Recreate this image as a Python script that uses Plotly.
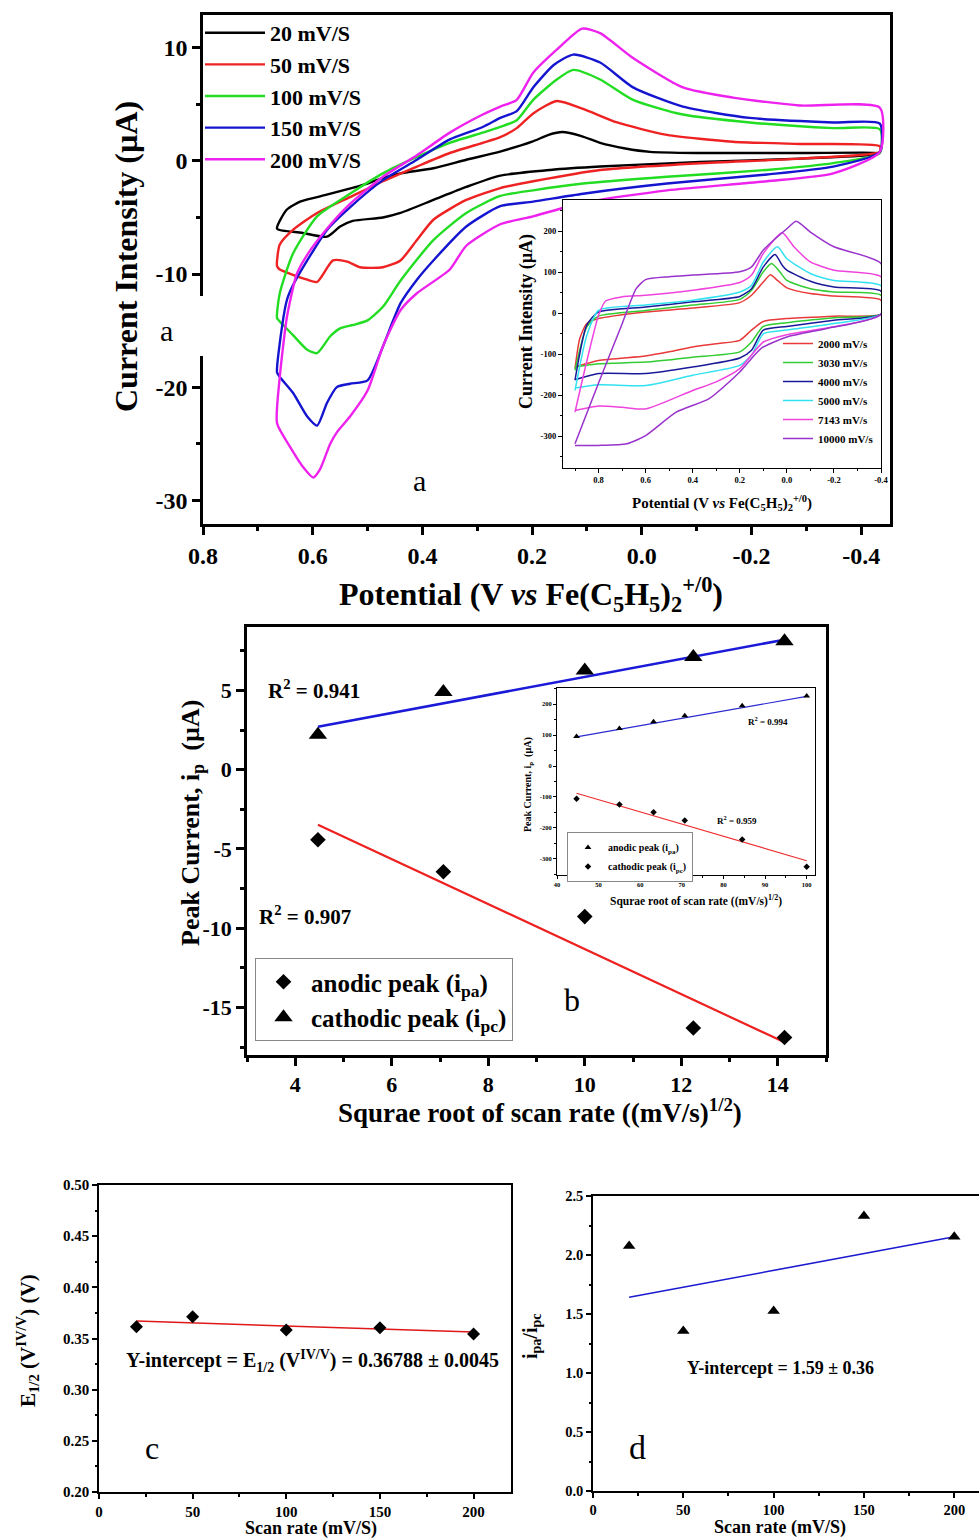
import plotly.graph_objects as go

# ---------------- DATA ----------------
# Panel a: cyclic voltammograms (potential V vs Fc+/0, current uA)
scan_labels = ["20 mV/S", "50 mV/S", "100 mV/S", "150 mV/S", "200 mV/S"]
v20 = [0.665, 0.647, 0.623, 0.592, 0.50, 0.472, 0.44, 0.38, 0.32, 0.26, 0.20, 0.17, 0.145, 0.11, 0.076, 0.03, -0.015,
       -0.10, -0.166, -0.30, -0.434, -0.41, -0.288, -0.106, 0.076, 0.167, 0.258, 0.32, 0.38, 0.44, 0.472, 0.527, 0.55,
       0.574, 0.62, 0.665]
i20 = [-6.0, -4.3, -3.6, -3.2, -2.0, -1.5, -1.1, -0.65, 0.1, 0.8, 1.7, 2.3, 2.55, 2.2, 1.6, 1.1, 0.8,
       0.7, 0.7, 0.7, 0.7, 0.5, 0.2, -0.1, -0.5, -0.8, -1.3, -2.3, -3.45, -4.6, -5.0, -5.3, -5.8,
       -6.7, -6.35, -6.0]
v50 = [0.665, 0.66, 0.636, 0.592, 0.532, 0.472, 0.41, 0.35, 0.29, 0.258, 0.228, 0.198, 0.155, 0.107, 0.045, -0.046,
       -0.166, -0.288, -0.434, -0.434, -0.288, -0.106, 0.076, 0.198, 0.258, 0.32, 0.38, 0.41, 0.44, 0.472, 0.514,
       0.537, 0.563, 0.592, 0.61, 0.66, 0.665]
i50 = [-9.3, -7.4, -6.1, -4.6, -3.2, -1.8, -0.5, 0.7, 1.6, 2.1, 2.9, 4.2, 5.3, 4.6, 3.4, 2.3,
       1.7, 1.5, 1.3, 0.8, 0.2, -0.2, -0.8, -1.8, -2.4, -3.45, -5.2, -7.0, -8.8, -9.4, -9.4,
       -8.9, -8.8, -10.7, -10.5, -9.6, -9.3]
v100 = [0.665, 0.66, 0.636, 0.592, 0.532, 0.472, 0.41, 0.35, 0.29, 0.258, 0.228, 0.198, 0.155, 0.125, 0.076, 0.016,
        -0.075, -0.197, -0.349, -0.434, -0.434, -0.349, -0.228, -0.046, 0.107, 0.198, 0.258, 0.32, 0.38, 0.44,
        0.472, 0.50, 0.526, 0.55, 0.568, 0.592, 0.61, 0.636, 0.66, 0.665]
i100 = [-13.9, -11.7, -8.2, -4.9, -2.9, -1.1, 0.35, 1.6, 2.5, 3.0, 3.6, 5.4, 7.2, 8.05, 7.2, 5.4,
        4.1, 3.4, 2.9, 2.8, 0.7, -0.2, -0.8, -1.4, -2.0, -2.6, -3.1, -4.6, -7.0, -10.6,
        -12.9, -14.1, -14.5, -14.8, -15.5, -17.0, -16.7, -15.4, -14.2, -13.9]
v150 = [0.665, 0.66, 0.647, 0.636, 0.61, 0.574, 0.532, 0.472, 0.41, 0.35, 0.29, 0.258, 0.228, 0.198, 0.16, 0.125,
        0.076, 0.016, -0.075, -0.197, -0.349, -0.434, -0.434, -0.349, -0.228, -0.046, 0.107, 0.198, 0.258, 0.32,
        0.38, 0.41, 0.44, 0.472, 0.50, 0.532, 0.556, 0.574, 0.592, 0.61, 0.636, 0.66, 0.665]
i150 = [-18.7, -16.1, -12.3, -11.0, -8.8, -6.1, -4.1, -1.7, 0.1, 1.9, 3.0, 3.8, 4.4, 6.5, 8.5, 9.4,
        8.7, 6.5, 4.8, 3.8, 3.4, 3.3, 0.8, -0.5, -1.2, -2.0, -2.9, -3.6, -4.0, -5.8,
        -8.8, -10.5, -12.6, -16.4, -19.4, -19.7, -20.0, -21.4, -23.4, -22.6, -20.5, -19.1, -18.7]
v200 = [0.665, 0.66, 0.647, 0.629, 0.61, 0.574, 0.532, 0.472, 0.41, 0.35, 0.29, 0.258, 0.228, 0.198, 0.149, 0.109,
        0.076, 0.016, -0.075, -0.166, -0.288, -0.434, -0.434, -0.349, -0.228, -0.046, 0.107, 0.198, 0.258, 0.32,
        0.35, 0.41, 0.44, 0.472, 0.50, 0.532, 0.556, 0.568, 0.587, 0.599, 0.617, 0.641, 0.665]
i200 = [-23.2, -19.1, -13.8, -10.0, -8.3, -6.0, -3.8, -1.4, 0.5, 2.5, 4.1, 4.8, 5.4, 7.8, 10.1, 11.7,
        11.3, 9.1, 6.5, 5.6, 4.9, 4.7, 0.8, -1.1, -1.8, -2.6, -3.7, -4.9, -5.6, -7.5,
        -9.6, -11.7, -13.2, -16.4, -20.3, -22.6, -24.0, -25.0, -27.3, -28.0, -27.1, -25.3, -23.2]

# Panel a inset: fast scans
fast_labels = ["2000 mV/s", "3030 mV/s", "4000 mV/s", "5000 mV/s", "7143 mV/s", "10000 mV/s"]
fv2000 = [0.9, 0.88, 0.85, 0.8, 0.6, 0.4, 0.2, 0.15, 0.1, 0.07, 0.04, 0.0, -0.1, -0.2, -0.4,
          -0.4, -0.2, 0.0, 0.1, 0.15, 0.2, 0.3, 0.4, 0.5, 0.6, 0.8, 0.9]
fi2000 = [-135, -62, -25, -13, 3, 13, 26, 44, 76, 94, 80, 62, 48, 42, 32,
          -2, -7, -13, -20, -41, -66, -74, -82, -94, -104, -115, -131]
fv3030 = [0.9, 0.85, 0.8, 0.6, 0.4, 0.2, 0.15, 0.1, 0.065, 0.03, 0.0, -0.1, -0.2, -0.4,
          -0.4, -0.2, 0.0, 0.1, 0.15, 0.2, 0.4, 0.6, 0.8, 0.9]
fi3030 = [-139, -33, -7, 7, 20, 34, 56, 101, 121, 101, 80, 60, 52, 44,
          -2, -11, -23, -32, -70, -94, -107, -119, -123, -131]
fv4000 = [0.9, 0.85, 0.8, 0.6, 0.4, 0.2, 0.15, 0.1, 0.05, 0.02, 0.0, -0.1, -0.2, -0.4,
          -0.4, -0.2, 0.0, 0.1, 0.15, 0.2, 0.4, 0.6, 0.8, 0.9]
fi4000 = [-163, -29, 3, 15, 28, 41, 60, 113, 143, 117, 105, 78, 64, 54,
          -2, -17, -32, -41, -90, -109, -131, -147, -147, -162]
fv5000 = [0.9, 0.85, 0.8, 0.6, 0.4, 0.2, 0.15, 0.1, 0.04, 0.0, -0.1, -0.2, -0.4,
          -0.4, -0.2, 0.0, 0.1, 0.15, 0.2, 0.4, 0.6, 0.8, 0.9]
fi5000 = [-188, -54, 7, 20, 32, 52, 68, 125, 162, 133, 97, 80, 67,
          -2, -25, -41, -50, -102, -127, -151, -176, -174, -182]
fv7143 = [0.9, 0.85, 0.8, 0.77, 0.7, 0.6, 0.4, 0.2, 0.15, 0.1, 0.02, -0.03, -0.1, -0.2, -0.4,
          -0.4, -0.2, 0.0, 0.1, 0.2, 0.3, 0.4, 0.6, 0.7, 0.8, 0.9]
fi7143 = [-241, -117, -5, 30, 40, 44, 56, 75, 93, 146, 196, 162, 125, 105, 89,
          -2, -33, -52, -70, -135, -167, -188, -233, -229, -226, -237]
fv10000 = [0.9, 0.8, 0.7, 0.64, 0.6, 0.5, 0.4, 0.2, 0.15, 0.1, 0.0, -0.04, -0.1, -0.2, -0.4,
           -0.4, -0.17, 0.0, 0.11, 0.2, 0.33, 0.47, 0.6, 0.68, 0.8, 0.9]
fi10000 = [-318, -170, -26, 60, 82, 89, 93, 101, 113, 154, 206, 224, 198, 162, 121,
           -2, -37, -58, -86, -143, -208, -241, -298, -318, -322, -322]

# Panel b: peak current vs sqrt(scan rate)
sqrt_rate = [4.47, 7.07, 10.0, 12.25, 14.14]
ipc_tri = [2.2, 4.9, 6.25, 7.1, 8.1]
ipa_dia = [-4.42, -6.44, -9.27, -16.3, -16.9]
fit_x = [4.47, 14.14]
fit_tri = [2.71, 8.2]
fit_dia = [-3.47, -17.2]

# Panel b inset
sqrt_fast = [44.7, 55.0, 63.2, 70.7, 84.5, 100.0]
in_tri = [95, 121, 143, 162, 195, 226]
in_dia = [-106, -124, -149, -176, -237, -325]
in_fit_x = [44.7, 100.0]
in_fit_tri = [94, 225]
in_fit_dia = [-88, -306]

# Panel c: E1/2 vs scan rate
scan_rate = [20, 50, 100, 150, 200]
e_half = [0.3615, 0.3713, 0.3583, 0.3605, 0.3544]
c_fit_x = [20, 200]
c_fit_y = [0.367, 0.3563]

# Panel d: ipa/ipc vs scan rate
ratio = [2.076, 1.356, 1.525, 2.33, 2.155]
d_fit_x = [20, 200]
d_fit_y = [1.641, 2.155]

# tick labels
a_xt = [0.8, 0.6, 0.4, 0.2, 0.0, -0.2, -0.4]
a_xl = ["0.8", "0.6", "0.4", "0.2", "0.0", "-0.2", "-0.4"]
a_yt = [10, 0, -10, -20, -30]
a_yl = ["10", "0", "-10", "-20", "-30"]
ai_yt = [200, 100, 0, -100, -200, -300]
ai_yl = ["200", "100", "0", "-100", "-200", "-300"]
b_xt = [4, 6, 8, 10, 12, 14]
b_xl = ["4", "6", "8", "10", "12", "14"]
b_yt = [5, 0, -5, -10, -15]
b_yl = ["5", "0", "-5", "-10", "-15"]
bi_xt = [40, 50, 60, 70, 80, 90, 100]
bi_xl = ["40", "50", "60", "70", "80", "90", "100"]
c_xt = [0, 50, 100, 150, 200]
c_xl = ["0", "50", "100", "150", "200"]
c_yt = [0.20, 0.25, 0.30, 0.35, 0.40, 0.45, 0.50]
c_yl = ["0.20", "0.25", "0.30", "0.35", "0.40", "0.45", "0.50"]
d_yt = [0.0, 0.5, 1.0, 1.5, 2.0, 2.5]
d_yl = ["0.0", "0.5", "1.0", "1.5", "2.0", "2.5"]

# ---------------- STYLE ----------------
W, H = 979, 1538
SERIF = "Liberation Serif"


def px(x):
    return x / W


def py(y):
    return 1 - y / H


main_colors = ["#000000", "#ee2222", "#22dd22", "#1515d0", "#ee22ee"]
fast_colors = ["#e83a3a", "#33cc33", "#1a1a99", "#33e2f0", "#ee44dd", "#9933cc"]

fig = go.Figure()

# Panel a main curves
for name, v, i, c in zip(scan_labels, [v20, v50, v100, v150, v200], [i20, i50, i100, i150, i200], main_colors):
    fig.add_trace(go.Scatter(x=v, y=i, mode="lines", name=name, line=dict(color=c, width=2.4, shape="spline", smoothing=0.6),
                             xaxis="x", yaxis="y", legend="legend", legendgroup=name))

# Panel a inset
for name, v, i, c in zip(fast_labels, [fv2000, fv3030, fv4000, fv5000, fv7143, fv10000],
                         [fi2000, fi3030, fi4000, fi5000, fi7143, fi10000], fast_colors):
    fig.add_trace(go.Scatter(x=v, y=i, mode="lines", name=name, line=dict(color=c, width=1.5, shape="spline", smoothing=0.6),
                             xaxis="x2", yaxis="y2", legend="legend2", legendgroup=name))

# Panel b
fig.add_trace(go.Scatter(x=fit_x, y=fit_tri, mode="lines", line=dict(color="#1a1ad8", width=2.6),
                         xaxis="x3", yaxis="y3", showlegend=False))
fig.add_trace(go.Scatter(x=fit_x, y=fit_dia, mode="lines", line=dict(color="#ee2020", width=2.2),
                         xaxis="x3", yaxis="y3", showlegend=False))
fig.add_trace(go.Scatter(x=sqrt_rate, y=ipa_dia, mode="markers", name="anodic peak (i<sub>pa</sub>)",
                         marker=dict(symbol="diamond", size=12, color="black"),
                         xaxis="x3", yaxis="y3", legend="legend3", legendrank=1))
fig.add_trace(go.Scatter(x=sqrt_rate, y=ipc_tri, mode="markers", name="cathodic peak (i<sub>pc</sub>)",
                         marker=dict(symbol="triangle-up", size=16, color="black"),
                         xaxis="x3", yaxis="y3", legend="legend3", legendrank=2))

# Panel b inset
fig.add_trace(go.Scatter(x=in_fit_x, y=in_fit_tri, mode="lines", line=dict(color="#2a2ad0", width=1.2),
                         xaxis="x4", yaxis="y4", showlegend=False))
fig.add_trace(go.Scatter(x=in_fit_x, y=in_fit_dia, mode="lines", line=dict(color="#ee3030", width=1.2),
                         xaxis="x4", yaxis="y4", showlegend=False))
fig.add_trace(go.Scatter(x=sqrt_fast, y=in_tri, mode="markers", name="anodic peak (i<sub>pa</sub>)",
                         marker=dict(symbol="triangle-up", size=6, color="black"),
                         xaxis="x4", yaxis="y4", legend="legend4", legendrank=1))
fig.add_trace(go.Scatter(x=sqrt_fast, y=in_dia, mode="markers", name="cathodic peak (i<sub>pc</sub>)",
                         marker=dict(symbol="diamond", size=5, color="black"),
                         xaxis="x4", yaxis="y4", legend="legend4", legendrank=2))

# Panel c
fig.add_trace(go.Scatter(x=c_fit_x, y=c_fit_y, mode="lines", line=dict(color="#e01818", width=1.5),
                         xaxis="x5", yaxis="y5", showlegend=False))
fig.add_trace(go.Scatter(x=scan_rate, y=e_half, mode="markers", marker=dict(symbol="diamond", size=10, color="black"),
                         xaxis="x5", yaxis="y5", showlegend=False))

# Panel d
fig.add_trace(go.Scatter(x=d_fit_x, y=d_fit_y, mode="lines", line=dict(color="#1a1ad0", width=1.5),
                         xaxis="x6", yaxis="y6", showlegend=False))
fig.add_trace(go.Scatter(x=scan_rate, y=ratio, mode="markers", marker=dict(symbol="triangle-up", size=11, color="black"),
                         xaxis="x6", yaxis="y6", showlegend=False))


def axis(domain, rng, tv, tt, mdtick, fsize, lw, tlen, anchor, mirror=True, mtick0=0):
    return dict(domain=domain, range=rng, anchor=anchor, automargin=False, tickmode="array", tickvals=tv, ticktext=tt,
                ticks="outside", ticklen=tlen, tickwidth=lw, tickcolor="black",
                minor=dict(ticks="outside", ticklen=max(2, tlen * 0.55), tickwidth=lw, tickcolor="black",
                           tickmode="linear", dtick=mdtick, tick0=mtick0),
                showline=True, linewidth=lw, linecolor="black", mirror=mirror,
                showgrid=False, zeroline=False,
                tickfont=dict(family=SERIF, size=fsize, color="black", weight="bold"))


fig.update_layout(
    template="none",
    width=W, height=H, margin=dict(l=0, r=0, t=0, b=0, autoexpand=False),
    paper_bgcolor="white", plot_bgcolor="white",
    xaxis=axis([px(203), px(890)], [0.8, -0.4525], a_xt, a_xl, 0.1, 24, 2.5, 8, "y"),
    yaxis=axis([py(524), py(15)], [-32.1, 12.9], a_yt, a_yl, 5, 24, 2.5, 8, "x"),
    xaxis2=axis([px(563), px(881)], [0.951, -0.4], a_xt, a_xl, 0.1, 8.5, 1.2, 4, "y2"),
    yaxis2=axis([py(468), py(200)], [-377, 276], ai_yt, ai_yl, 50, 8.5, 1.2, 4, "x2"),
    xaxis3=axis([px(247), px(826)], [3, 15], b_xt, b_xl, 1, 22, 2.5, 8, "y3"),
    yaxis3=axis([py(1055), py(627)], [-18, 9], b_yt, b_yl, 2.5, 22, 2.5, 8, "x3"),
    xaxis4=axis([px(557), px(815)], [40, 102], bi_xt, bi_xl, 5, 6.5, 1, 3, "y4"),
    yaxis4=axis([py(875), py(688)], [-352, 252], ai_yt, ai_yl, 50, 6.5, 1, 3, "x4"),
    xaxis5=axis([px(99), px(511)], [0, 220], c_xt, c_xl, 25, 15, 1.5, 5, "y5"),
    yaxis5=axis([py(1492), py(1185)], [0.2, 0.5], c_yt, c_yl, 0.025, 15, 1.5, 5, "x5"),
    xaxis6=axis([px(593), 1.0], [0, 213.7], c_xt, c_xl, 25, 14.5, 1.5, 5, "y6"),
    yaxis6=axis([py(1491), py(1196)], [0, 2.5], d_yt, d_yl, 0.25, 14.5, 1.5, 5, "x6", mirror=False),
    legend=dict(x=px(200), y=py(12), xanchor="left", yanchor="top", bgcolor="rgba(0,0,0,0)",
                font=dict(family=SERIF, size=22, color="black", weight="bold"), tracegroupgap=0, itemwidth=60),
    legend2=dict(x=px(778), y=py(329), xanchor="left", yanchor="top", bgcolor="rgba(0,0,0,0)",
                 font=dict(family=SERIF, size=11, color="black", weight="bold"), tracegroupgap=0),
    legend3=dict(x=px(255), y=py(958), xanchor="left", yanchor="top", bgcolor="white",
                 bordercolor="#888888", borderwidth=1, itemwidth=45,
                 font=dict(family=SERIF, size=25, color="black", weight="bold")),
    legend4=dict(x=px(567), y=py(832), xanchor="left", yanchor="top", bgcolor="white",
                 bordercolor="#888888", borderwidth=1,
                 font=dict(family=SERIF, size=10, color="black", weight="bold")),
)


def txt(x, y, s, size, bold=True, angle=0, xanchor="center", bg=None):
    d = dict(x=px(x), y=py(y), xref="paper", yref="paper", text=s, showarrow=False, textangle=angle,
             xanchor=xanchor, yanchor="middle",
             font=dict(family=SERIF, size=size, color="black", weight="bold" if bold else "normal"))
    if bg:
        d["bgcolor"] = bg
    return d


fe = "Fe(C<sub>5</sub>H<sub>5</sub>)<sub>2</sub><sup>+/0</sup>)"
ann = [
    txt(126, 257, "Current Intensity (µA)", 32, angle=-90),
    txt(531, 594, "Potential (V <i>vs</i> " + fe, 32),
    txt(166, 330, "a", 30, bold=False),
    txt(419, 480, "a", 30, bold=False),
    txt(526, 322, "Current Intensity (µA)", 18, angle=-90),
    txt(722, 503, "Potential (V <i>vs</i> " + fe, 15),
    txt(192, 823, "Peak Current, i<sub>p</sub>&nbsp;&nbsp;(µA)", 26, angle=-90),
    txt(540, 1111, "Squrae root of scan rate ((mV/s)<sup>1/2</sup>)", 27),
    txt(266, 689, "R<sup>2</sup> = 0.941", 21, xanchor="left"),
    txt(257, 915, "R<sup>2</sup> = 0.907", 21, xanchor="left"),
    txt(572, 1000, "b", 32, bold=False),
    txt(528, 785, "Peak Current, i<sub>p</sub>&nbsp;&nbsp;(µA)", 10, angle=-90),
    txt(696, 900, "Squrae root of scan rate ((mV/s)<sup>1/2</sup>)", 11.5),
    txt(746, 721, "R<sup>2</sup> = 0.994", 9, xanchor="left"),
    txt(715, 820, "R<sup>2</sup> = 0.959", 9, xanchor="left"),
    txt(27, 1341, "E<sub>1/2</sub> (V<sup>IV/V</sup>) (V)", 21, angle=-90),
    txt(311, 1528, "Scan rate (mV/S)", 18),
    txt(124, 1361, "Y-intercept = E<sub>1/2</sub> (V<sup>IV/V</sup>) = 0.36788 ± 0.0045", 20, xanchor="left"),
    txt(152, 1448, "c", 32, bold=False),
    txt(531, 1337, "i<sub>pa</sub>/i<sub>pc</sub>", 20, angle=-90),
    txt(780, 1527, "Scan rate (mV/S)", 18),
    txt(685, 1368, "Y-intercept = 1.59 ± 0.36", 18, xanchor="left"),
    txt(637, 1447, "d", 34, bold=False),
]
fig.update_layout(annotations=ann)

fig.add_shape(type="rect", xref="paper", yref="paper", x0=px(143), x1=px(207), y0=py(356), y1=py(296),
              fillcolor="white", line=dict(width=0), layer="above")

fig.write_html("out.html", config={"displayModeBar": False},
               post_script="document.body.style.margin='0px';document.body.style.padding='0px';"
                           "document.body.style.overflow='hidden';")
